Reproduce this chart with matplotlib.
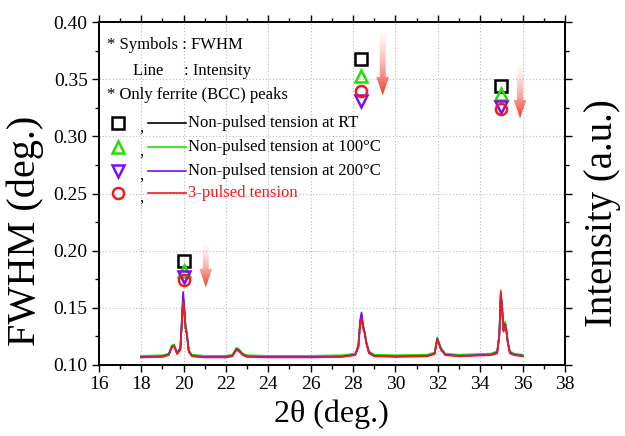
import numpy as np
import matplotlib
matplotlib.use('Agg')
import matplotlib.pyplot as plt
from matplotlib.patches import FancyArrow
from matplotlib.ticker import MultipleLocator, NullFormatter

plt.rcParams['font.family'] = ['Liberation Serif', 'DejaVu Serif']

# FWHM symbols (deg.) at the three ferrite peaks
peak_pos = [20.0, 28.37, 34.97]
fwhm_rt = [0.191, 0.3675, 0.344]
fwhm_100 = [0.182, 0.3526, 0.337]
fwhm_200 = [0.177, 0.3307, 0.326]
fwhm_pulsed = [0.174, 0.3395, 0.3237]

# XRD intensity (a.u.)
two_theta = [18.0, 19.0, 19.3, 19.45, 19.55, 19.7, 19.85, 19.93, 19.98, 20.03,
             20.1, 20.15, 20.25, 20.4, 21.0, 22.0, 22.3, 22.5, 22.6, 22.8,
             23.0, 24.0, 26.0, 27.5, 28.1, 28.25, 28.33, 28.4, 28.47, 28.55,
             28.62, 28.75, 29.0, 30.0, 31.5, 31.85, 31.97, 32.05, 32.15, 32.35,
             33.0, 34.5, 34.8, 34.9, 34.97, 35.03, 35.1, 35.17, 35.22, 35.3,
             35.4, 35.6, 36.0]
int_rt = [7, 7.5, 9, 16, 17, 10, 14, 40, 60, 50,
          32, 28, 12, 8, 7, 7, 8, 14, 13, 9,
          7.5, 7, 7, 7.5, 9, 16, 36, 44, 34, 28,
          20, 11, 8, 7.5, 8, 10, 23, 19, 14, 9,
          8, 9, 11, 26, 63, 52, 30, 37, 33, 20,
          11, 9, 8]
int_100 = [8, 8.5, 10, 17, 18, 11, 15, 40, 58, 49,
           34, 29, 13, 9, 8, 8, 9, 15, 14, 10,
           8.5, 8, 8, 8.5, 10, 17, 36, 42, 35, 29,
           21, 12, 9, 8.5, 9, 11, 24, 20, 15, 10,
           9, 10, 12, 27, 60, 50, 31, 38, 34, 21,
           12, 10, 9]
int_200 = [7, 7.5, 9, 16, 17, 10, 15, 44, 64, 52,
           33, 28, 12, 8, 7, 7, 8, 14, 13, 9,
           7.5, 7, 7, 7.5, 9, 17, 39, 46, 35, 28,
           20, 11, 8, 7.5, 8, 10, 23, 19, 14, 9,
           8, 9, 11, 26, 62, 50, 30, 36, 32, 20,
           11, 9, 8]
int_pulsed = [6.5, 7, 8.5, 15, 17, 9.5, 13, 38, 55, 47,
              31, 27, 11, 7.5, 6.5, 6.5, 7.5, 13, 12, 8.5,
              7, 6.5, 6.5, 7, 8.5, 15, 34, 40, 32, 27,
              19, 10, 7.5, 7, 7.5, 9.5, 22, 18, 13, 8.5,
              7.5, 8.5, 10, 25, 65, 48, 29, 35, 31, 19,
              10, 8.5, 7.5]

# arrows: x, top, tip (FWHM scale)
arrow_x = [21.05, 29.4, 35.88]
arrow_top = [0.205, 0.392, 0.362]
arrow_tip = [0.168, 0.336, 0.316]

c_black, c_green, c_purple, c_red = 'black', '#22e000', '#7a10f0', '#ee1c1c'

fig = plt.figure(figsize=(6.25, 4.36), dpi=100)
ax = fig.add_axes([0.158, 0.163, 0.746, 0.786])
ax2 = ax.twinx()

# intensity curves
ax2.plot(two_theta, int_rt, color=c_black, lw=1.2)
ax2.plot(two_theta, int_100, color=c_green, lw=1.2)
ax2.plot(two_theta, int_200, color=c_purple, lw=1.2)
ax2.plot(two_theta, int_pulsed, color=c_red, lw=1.2)
ax2.set_ylim(0, 300)
ax2.yaxis.set_major_locator(MultipleLocator(50))
ax2.yaxis.set_minor_locator(MultipleLocator(25))
ax2.yaxis.set_major_formatter(NullFormatter())
ax2.set_ylabel('Intensity (a.u.)', fontsize=28)
ax2.yaxis.set_label_coords(1.04, 0.443)

# FWHM symbols
mk = dict(ls='none', ms=8, mfc='none', mew=1.8, zorder=5, clip_on=False)
ax2.plot(peak_pos, [(v - 0.1) * 1000 for v in fwhm_rt], marker='s', color=c_black, **mk)
ax2.plot(peak_pos, [(v - 0.1) * 1000 for v in fwhm_100], marker='^', color=c_green, **mk)
ax2.plot(peak_pos, [(v - 0.1) * 1000 for v in fwhm_200], marker='v', color=c_purple, **mk)
ax2.plot(peak_pos, [(v - 0.1) * 1000 for v in fwhm_pulsed], marker='o', color=c_red, **mk)

# gradient arrows
grad = np.zeros((100, 1, 4))
grad[:, 0, 0] = 0.95
grad[:, 0, 1] = np.linspace(0.7, 0.22, 100)
grad[:, 0, 2] = np.linspace(0.65, 0.15, 100)
grad[:, 0, 3] = np.linspace(0.05, 1.0, 100)
for x, top, tip in zip(arrow_x, arrow_top, arrow_tip):
    t = (top - 0.1) * 1000
    b = (tip - 0.1) * 1000
    arr = FancyArrow(x, t, 0, b - t, width=0.28, head_width=0.6,
                     head_length=16, length_includes_head=True,
                     facecolor='none', edgecolor='none')
    ax2.add_patch(arr)
    im = ax2.imshow(grad, extent=[x - 0.35, x + 0.35, b, t], aspect='auto',
                    origin='upper', zorder=4)
    im.set_clip_path(arr)

ax.set_xlim(16, 38)
ax.set_ylim(0.10, 0.40)
ax2.set_xlim(16, 38)
ax2.set_ylim(0, 300)

ax.xaxis.set_major_locator(MultipleLocator(2))
ax.xaxis.set_minor_locator(MultipleLocator(1))
ax.yaxis.set_major_locator(MultipleLocator(0.05))
ax.yaxis.set_minor_locator(MultipleLocator(0.025))
ax.yaxis.set_major_formatter(matplotlib.ticker.FormatStrFormatter('%.2f'))
ax.grid(True, which='major', ls=(0, (1, 2)), color='#b8b8b8', lw=0.8)

for a in (ax, ax2):
    a.tick_params(which='major', direction='out', length=5, width=1, labelsize=14,
                  top=True, pad=3)
    a.tick_params(which='minor', direction='out', length=3, width=1, top=True)
    for s in a.spines.values():
        s.set_linewidth(1.2)

ax.set_xlabel('2θ (deg.)', fontsize=23, labelpad=5)
ax.set_ylabel('FWHM (deg.)', fontsize=29)
ax.yaxis.set_label_coords(-0.117, 0.39)

# annotation box (axes fraction)
fs = 12
ax.text(0.017, 0.933, '* Symbols : FWHM', transform=ax.transAxes, fontsize=fs, va='center')
ax.text(0.073, 0.857, 'Line     : Intensity', transform=ax.transAxes, fontsize=fs, va='center')
ax.text(0.017, 0.789, '* Only ferrite (BCC) peaks', transform=ax.transAxes, fontsize=fs, va='center')

rows_y = [0.705, 0.635, 0.567, 0.503]
labels = ['Non-pulsed tension at RT', 'Non-pulsed tension at 100°C',
          'Non-pulsed tension at 200°C', '3-pulsed tension']
markers = ['s', '^', 'v', 'o']
colors = [c_black, c_green, c_purple, c_red]
for yy, lab, m, c in zip(rows_y, labels, markers, colors):
    ax.plot([0.041], [yy], marker=m, color=c, ms=8, mfc='none', mew=1.8,
            transform=ax.transAxes, clip_on=False)
    ax.text(0.088, yy - 0.014, ',', transform=ax.transAxes, fontsize=fs, va='center')
    ax.plot([0.105, 0.187], [yy, yy], color=c, lw=1.2, transform=ax.transAxes)
    ax.text(0.191, yy, lab, transform=ax.transAxes, fontsize=fs, va='center',
            color=c_red if c == c_red else 'black')

fig.savefig('out.png', dpi=100)
